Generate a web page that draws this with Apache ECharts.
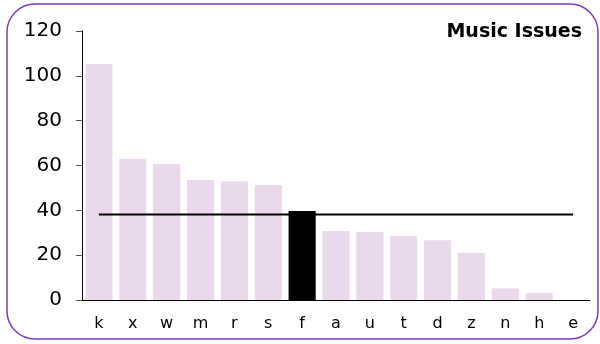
<!DOCTYPE html>
<html>
<head>
<meta charset="utf-8">
<script src="https://cdn.jsdelivr.net/npm/echarts@6/dist/echarts.min.js"></script>
<style>
  html, body { margin: 0; padding: 0; background: #ffffff; }
  #chart { width: 600px; height: 344px; }
</style>
</head>
<body>
<div id="chart"></div>
<script>
// Issue counts per category, sorted descending
const categories = ['k', 'x', 'w', 'm', 'r', 's', 'f', 'a', 'u', 't', 'd', 'z', 'n', 'h', 'e'];
const issueCounts = [105.3, 63, 60.7, 53.5, 53, 51.3, 39.7, 30.8, 30.3, 28.5, 26.6, 21, 5.2, 3.1, 0];
// Mean level drawn across all categories
const meanLevel = [38.1, 38.1, 38.1, 38.1, 38.1, 38.1, 38.1, 38.1, 38.1, 38.1, 38.1, 38.1, 38.1, 38.1, 38.1];
const highlighted = 'f';
const yTicks = { min: 0, max: 120, interval: 20 };

const chart = echarts.init(document.getElementById('chart'), null, { renderer: 'canvas' });

const barData = issueCounts.map((v, i) => ({
  value: v,
  itemStyle: { color: categories[i] === highlighted ? '#000000' : '#ead9eb' }
}));

chart.setOption({
  animation: false,
  backgroundColor: '#ffffff',
  title: {
    text: 'Music Issues',
    right: 13,
    top: 18,
    textStyle: { fontFamily: 'DejaVu Sans', fontWeight: 'bold', fontSize: 19, color: '#000000' }
  },
  graphic: [{
    type: 'rect',
    shape: { x: 7, y: 4, width: 591, height: 335, r: 28 },
    style: { fill: 'none', stroke: '#7b3fb3', lineWidth: 1.5 },
    z: 100
  }],
  grid: { left: 82, right: 10, top: 31, bottom: 44 },
  xAxis: {
    type: 'category',
    data: categories,
    axisLine: { lineStyle: { color: '#000000', width: 1 } },
    axisTick: { show: false },
    axisLabel: { color: '#000000', fontFamily: 'DejaVu Sans', fontSize: 16, margin: 16 }
  },
  yAxis: {
    type: 'value',
    min: yTicks.min,
    max: yTicks.max,
    interval: yTicks.interval,
    axisLine: { show: true, lineStyle: { color: '#000000', width: 1 } },
    axisTick: { show: true, length: 6, lineStyle: { color: '#555555' } },
    splitLine: { show: false },
    axisLabel: { color: '#000000', fontFamily: 'DejaVu Sans', fontSize: 20, margin: 20 }
  },
  series: [
    {
      type: 'bar',
      data: barData,
      barCategoryGap: '20%'
    },
    {
      type: 'line',
      data: meanLevel,
      symbol: 'none',
      lineStyle: { color: '#000000', width: 2 },
      z: 5
    }
  ]
});
</script>
</body>
</html>
